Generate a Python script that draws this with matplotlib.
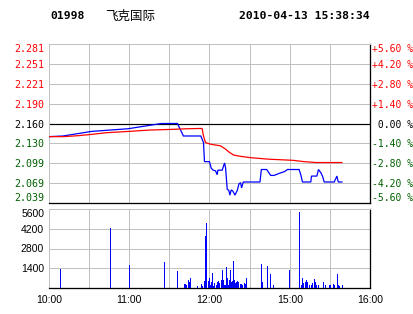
import matplotlib
matplotlib.use('Agg')
import matplotlib.pyplot as plt
import numpy as np

# ---------------- data ----------------
stock_code = "01998"
stock_name = "飞克国际"
timestamp = "2010-04-13 15:38:34"
prev_close = 2.160

# trading minutes from 10:00 (lunch break removed)
price_minutes = [0, 10.5, 32, 59, 84, 96, 100.5, 113.5, 115.5, 116.25, 120, 121.25, 122.75,
                 124.5, 125.75, 126.25, 129.5, 131.25, 132, 132.75, 133.25, 134.5, 135.25,
                 136.25, 137.5, 139, 140.75, 142, 143.25, 144, 145.25, 157.75, 158.75,
                 162.75, 165.75, 168.25, 172, 176.25, 178.25, 187, 188.25, 189.5, 195.75,
                 196.25, 200.25, 201.5, 203.25, 204.5, 205.75, 213.25, 215.25, 216.25, 219]
price_values = [2.140, 2.141, 2.148, 2.152, 2.160, 2.160, 2.141, 2.141, 2.131, 2.102, 2.102,
                2.092, 2.089, 2.088, 2.082, 2.089, 2.089, 2.100, 2.093, 2.073, 2.060, 2.058,
                2.051, 2.059, 2.057, 2.051, 2.058, 2.068, 2.070, 2.062, 2.071, 2.071, 2.090,
                2.090, 2.081, 2.081, 2.084, 2.087, 2.090, 2.090, 2.082, 2.071, 2.071, 2.080,
                2.080, 2.090, 2.085, 2.080, 2.071, 2.071, 2.080, 2.071, 2.071]

avg_minutes = [0, 11, 22, 32, 43, 60, 75, 91, 103, 114.5, 115.5, 117, 120.75, 128.25, 132,
               134.25, 138, 143.25, 150.75, 164.25, 182.25, 190.5, 199.5, 219]
avg_values = [2.140, 2.140, 2.1415, 2.1435, 2.146, 2.148, 2.150, 2.151, 2.152, 2.1525, 2.141,
              2.131, 2.1285, 2.126, 2.121, 2.117, 2.112, 2.110, 2.108, 2.1057, 2.104, 2.102,
              2.1006, 2.1006]

vol_minutes = [8.5, 45.25, 59.5, 85.75, 95.5, 100.75, 101.5, 102.25, 103.75, 104.5, 105.25,
               110.75, 113.5, 114.25, 115.75, 116.5, 117.25, 118.75, 119.5, 120.25, 121,
               121.75, 122.5, 123.25, 124.75, 125.5, 126.25, 127, 128.25, 129, 129.75,
               130.75, 131.5, 132.25, 133, 133.75, 134.5, 135.25, 136, 136.75, 137.5,
               138.25, 139, 139.75, 140.75, 141.25, 142.75, 143.5, 144.25, 145.75, 146.5,
               147.25, 158.25, 159, 163, 165.25, 167.5, 179.5, 187, 188.5, 189.25, 190,
               191.5, 192.25, 193, 194.5, 196, 196.75, 198.25, 199, 199.75, 201.25, 205,
               206.5, 209.5, 210.25, 212.5, 213.25, 215.5, 216.25, 217, 219.25]
vol_values = [1350, 4230, 1630, 1840, 1200, 280, 280, 210, 570, 400, 710,
              165, 260, 165, 500, 3710, 4610, 500, 710, 210, 400,
              1060, 165, 330, 210, 400, 500, 330, 570, 1280, 570,
              210, 210, 1490, 710, 210, 570, 1280, 400, 500, 1910,
              570, 330, 400, 500, 400, 260, 260, 210, 330, 260,
              710, 1700, 400, 1560, 990, 210, 1280, 5390, 210, 710, 330,
              400, 570, 400, 210, 210, 330, 640, 400, 210, 210, 400,
              210, 210, 210, 260, 210, 990, 210, 165, 210]

pct_ticks = [-5.6, -4.2, -2.8, -1.4, 0.0, 1.4, 2.8, 4.2, 5.6]
price_tick_labels = ["2.039", "2.069", "2.099", "2.130", "2.160", "2.190", "2.221", "2.251", "2.281"]
pct_tick_labels = ["-5.60 %", "-4.20 %", "-2.80 %", "-1.40 %", " 0.00 %",
                   "+1.40 %", "+2.80 %", "+4.20 %", "+5.60 %"]
vol_ticks = [1400, 2800, 4200, 5600]
vol_tick_labels = ["1400", "2800", "4200", "5600"]
time_ticks = [0, 60, 120, 180, 240]
time_labels = ["10:00", "11:00", "12:00", "15:00", "16:00"]
grid_minutes = [0, 30, 60, 90, 120, 150, 180, 210, 240]

# ---------------- style ----------------
W, H = 414, 314
RED = '#ff0000'
GREEN = '#006000'
GRID = '#c0c0c0'
BLUE = '#0000ff'
PX = 72 / 100.0  # one pixel in points

fig = plt.figure(figsize=(W / 100, H / 100), dpi=100)
fig.patch.set_facecolor('white')

def fx(px):
    return px / W

def fy(py):
    return 1 - py / H

left, right = 49, 370
ax = fig.add_axes([fx(left), fy(203), fx(right - left), (203 - 44) / H])
axv = fig.add_axes([fx(left), fy(288), fx(right - left), (288 - 209) / H])

def pct_color(p):
    if p > 0:
        return RED
    if p < 0:
        return GREEN
    return 'black'

# ---- price panel ----
ylo = prev_close * (1 + pct_ticks[0] / 100)
yhi = prev_close * (1 + pct_ticks[-1] / 100)
ax.set_xlim(0, 240)
ax.set_ylim(ylo, yhi)
price_tick_pos = [prev_close * (1 + p / 100) for p in pct_ticks]
for y in price_tick_pos:
    ax.axhline(y, color=GRID, lw=PX, zorder=0)
for m in grid_minutes:
    ax.axvline(m, color=GRID, lw=PX, zorder=0)
ax.axhline(prev_close, color='black', lw=PX * 1.2, zorder=1)
ax.plot(price_minutes, price_values, color=BLUE, lw=0.9, zorder=3, solid_joinstyle='miter')
ax.plot(avg_minutes, avg_values, color=RED, lw=0.9, zorder=4, solid_joinstyle='miter')
ax.set_xticks([])
ax.set_yticks(price_tick_pos)
ax.set_yticklabels(price_tick_labels, family='DejaVu Sans Mono', fontsize=7.2)
ax.tick_params(axis='y', length=0, pad=3.5)
for lab, p in zip(ax.get_yticklabels(), pct_ticks):
    lab.set_color(pct_color(p))
ax.get_yticklabels()[0].set_va('bottom')
ax.get_yticklabels()[-1].set_va('top')

for s in ['top', 'left']:
    ax.spines[s].set_color(GRID)
    ax.spines[s].set_linewidth(PX)
for s in ['bottom', 'right']:
    ax.spines[s].set_color('black')
    ax.spines[s].set_linewidth(PX * 1.3)

ax2 = ax.twinx()
ax2.set_ylim(pct_ticks[0], pct_ticks[-1])
ax2.set_yticks(pct_ticks)
ax2.set_yticklabels(pct_tick_labels, family='DejaVu Sans Mono', fontsize=7.0)
ax2.tick_params(axis='y', length=0, pad=1.2)
for lab, p in zip(ax2.get_yticklabels(), pct_ticks):
    lab.set_color(pct_color(p))
ax2.get_yticklabels()[0].set_va('bottom')
ax2.get_yticklabels()[-1].set_va('top')
for s in ax2.spines.values():
    s.set_visible(False)

# ---- volume panel ----
axv.set_xlim(0, 240)
axv.set_ylim(0, vol_ticks[-1])
for y in vol_ticks:
    axv.axhline(y, color=GRID, lw=PX, zorder=0)
for m in grid_minutes:
    axv.axvline(m, color=GRID, lw=PX, zorder=0)
axv.vlines(vol_minutes, 0, vol_values, color=BLUE, lw=PX, zorder=3, antialiased=False)
axv.set_yticks(vol_ticks)
axv.set_yticklabels(vol_tick_labels, family='Liberation Sans', fontsize=7.5)
axv.get_yticklabels()[-1].set_va('top')
axv.set_xticks(time_ticks)
axv.set_xticklabels(time_labels, family='Liberation Sans', fontsize=7.5)
axv.tick_params(axis='both', length=0)
axv.tick_params(axis='y', pad=3.5)
axv.tick_params(axis='x', pad=5)
for s in ['top', 'left']:
    axv.spines[s].set_color(GRID)
    axv.spines[s].set_linewidth(PX)
for s in ['bottom', 'right']:
    axv.spines[s].set_color('black')
    axv.spines[s].set_linewidth(PX * 1.3)

# ---- header ----
fig.text(fx(50), fy(16), stock_code, family='DejaVu Sans Mono', fontweight='bold',
         fontsize=8.2, va='center', ha='left')
fig.text(fx(105), fy(16), stock_name, family=['Noto Sans CJK SC', 'DejaVu Sans'],
         fontsize=9, va='center', ha='left')
fig.text(fx(370), fy(16), timestamp, family='DejaVu Sans Mono', fontweight='bold',
         fontsize=8.2, va='center', ha='right')

fig.savefig('out.png', dpi=100, facecolor='white')
